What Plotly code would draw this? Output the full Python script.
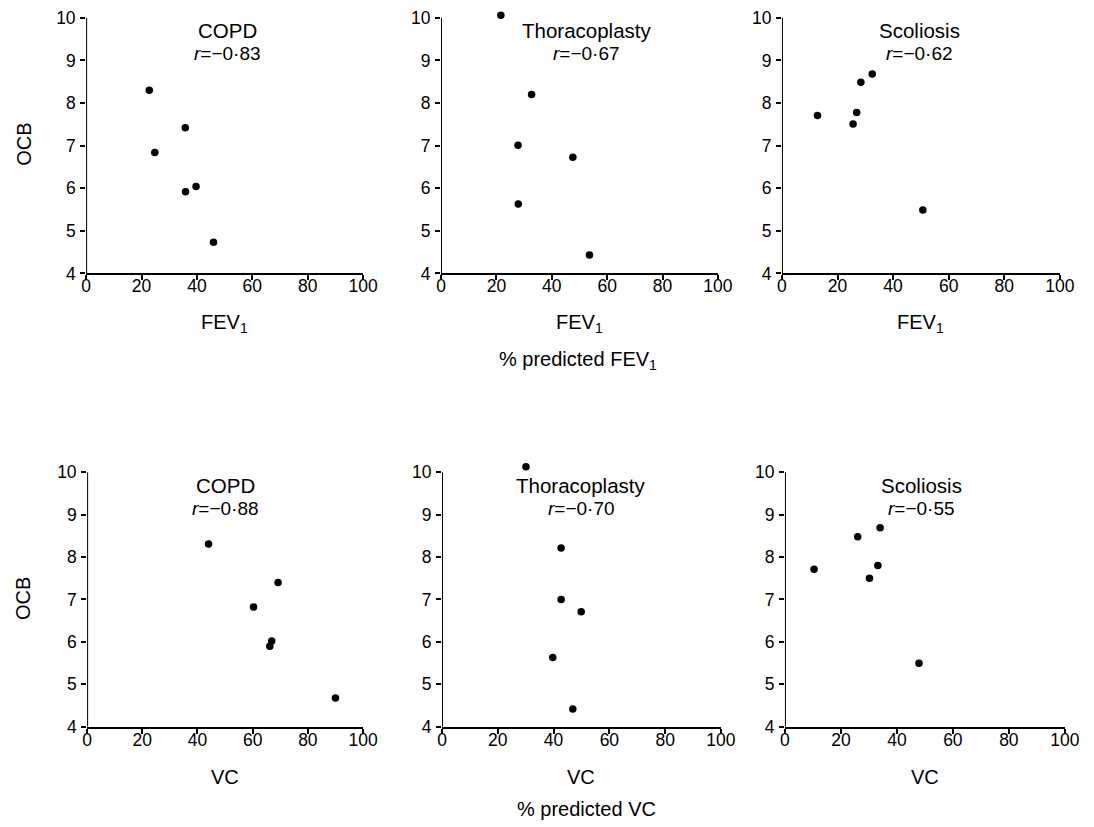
import plotly.graph_objects as go

W, H = 1094, 827
PAD = 8                       # body margin of the page
SX, BX = 0.982, 5.0           # observed screen mapping (calibration)
SY, BY = 0.9845, 2.3

# ---- data ----
copd_fev1_x = [22.8, 35.8, 24.8, 35.9, 39.7, 46.0]
copd_fev1_y = [8.30, 7.42, 6.84, 5.92, 6.04, 4.73]
thor_fev1_x = [21.6, 32.7, 27.8, 47.6, 27.9, 53.6]
thor_fev1_y = [10.06, 8.20, 7.01, 6.73, 5.63, 4.43]
scol_fev1_x = [12.8, 28.4, 32.5, 26.9, 25.6, 50.7]
scol_fev1_y = [7.71, 8.49, 8.68, 7.78, 7.51, 5.49]

copd_vc_x = [44.0, 69.2, 60.3, 66.9, 66.2, 90.0]
copd_vc_y = [8.31, 7.40, 6.82, 6.02, 5.90, 4.68]
thor_vc_x = [30.1, 42.7, 42.7, 49.9, 39.7, 46.9]
thor_vc_y = [10.13, 8.21, 7.00, 6.71, 5.63, 4.42]
scol_vc_x = [10.4, 26.0, 34.0, 33.2, 30.2, 47.9]
scol_vc_y = [7.71, 8.48, 8.69, 7.80, 7.50, 5.50]

panel_names = ["COPD", "Thoracoplasty", "Scoliosis", "COPD", "Thoracoplasty", "Scoliosis"]
r_values = ["−0·83", "−0·67", "−0·62", "−0·88", "−0·70", "−0·55"]
x_ticks = [0, 20, 40, 60, 80, 100]
y_ticks = [4, 5, 6, 7, 8, 9, 10]
Y_MIN, Y_MAX, Y_TOP = 4, 10, 10.135   # Y_TOP leaves room for points just above 10

series = [
    (copd_fev1_x, copd_fev1_y), (thor_fev1_x, thor_fev1_y), (scol_fev1_x, scol_fev1_y),
    (copd_vc_x, copd_vc_y), (thor_vc_x, thor_vc_y), (scol_vc_x, scol_vc_y),
]

# ---- layout geometry (target pixels in the screenshot) ----
x_px = [(86, 363), (441, 718), (782, 1060), (87, 363), (442, 721), (785, 1065)]
y_px = [(16, 272)] * 3 + [(471, 726)] * 3
title_pos = [0.51, 0.527, 0.496, 0.50, 0.50, 0.488]


def px_x(p):
    return min(1.0, max(0.0, ((p - BX) / SX - PAD) / W))


def px_y(p):
    return min(1.0, max(0.0, 1 - ((p - BY) / SY - PAD) / H))


FONT = "Liberation Sans, Arial, Helvetica, sans-serif"

fig = go.Figure()
layout = dict(
    width=W, height=H,
    margin=dict(l=0, r=0, t=0, b=0),
    paper_bgcolor="white", plot_bgcolor="white",
    showlegend=False,
    font=dict(family=FONT, color="black"),
)
annotations = []
shapes = []

for i, ((xs, ys), (x0, x1), (y0, y1)) in enumerate(zip(series, x_px, y_px)):
    n = i + 1
    xa = "x" if n == 1 else f"x{n}"
    ya = "y" if n == 1 else f"y{n}"
    fig.add_trace(go.Scatter(
        x=xs, y=ys, mode="markers", xaxis=xa, yaxis=ya,
        marker=dict(color="black", size=7.5), cliponaxis=False,
        hoverinfo="x+y",
    ))
    common = dict(
        showgrid=False, zeroline=False, linecolor="black",
        ticks="outside", tickcolor="black", tickwidth=2,
        ticklen=5, ticklabeloverflow="allow",
        tickfont=dict(size=17.5, family=FONT, color="black"),
    )
    top_px = y0 - (Y_TOP - Y_MAX) / (Y_MAX - Y_MIN) * (y1 - y0)
    layout["xaxis" if n == 1 else f"xaxis{n}"] = dict(
        domain=[px_x(x0), px_x(x1)], range=[0, 100], tickvals=x_ticks,
        anchor=ya, showline=True, linewidth=2, ticklabelstandoff=-9, **common,
    )
    layout["yaxis" if n == 1 else f"yaxis{n}"] = dict(
        domain=[px_y(y1), px_y(top_px)], range=[Y_MIN, Y_TOP], tickvals=y_ticks,
        anchor=xa, showline=False, ticklabelstandoff=1, **common,
    )
    # y axis line from 4 to 10 only
    shapes.append(dict(
        type="line", xref=xa, yref=ya, x0=0, x1=0, y0=Y_MIN, y1=Y_MAX,
        line=dict(color="black", width=2), layer="above",
    ))
    # panel title and r
    annotations.append(dict(
        xref=f"{xa} domain", yref="paper", x=title_pos[i], y=px_y(y0 + 13),
        text=panel_names[i], showarrow=False,
        font=dict(size=20.5, family=FONT, color="black"),
        xanchor="center", yanchor="middle",
    ))
    annotations.append(dict(
        xref=f"{xa} domain", yref="paper", x=title_pos[i], y=px_y(y0 + 36),
        text="<i>r</i>=" + r_values[i], showarrow=False,
        font=dict(size=19, family=FONT, color="black"),
        xanchor="center", yanchor="middle",
    ))
    # x-axis title
    annotations.append(dict(
        xref=f"{xa} domain", yref="paper", x=0.5, y=px_y(y1 + 50),
        text="FEV<sub>1</sub>" if i < 3 else "VC", showarrow=False,
        font=dict(size=20, family=FONT, color="black"),
        xanchor="center", yanchor="middle",
    ))

# OCB labels
for yc in (143, 598):
    annotations.append(dict(
        xref="paper", yref="paper", x=px_x(23), y=px_y(yc), text="OCB",
        textangle=-90, showarrow=False,
        font=dict(size=20, family=FONT, color="black"),
        xanchor="center", yanchor="middle",
    ))

annotations.append(dict(
    xref="paper", yref="paper", x=px_x(578), y=px_y(359),
    text="% predicted FEV<sub>1</sub>", showarrow=False,
    font=dict(size=20, family=FONT, color="black"),
    xanchor="center", yanchor="middle",
))
annotations.append(dict(
    xref="paper", yref="paper", x=px_x(587), y=px_y(808),
    text="% predicted VC", showarrow=False,
    font=dict(size=20, family=FONT, color="black"),
    xanchor="center", yanchor="middle",
))

layout["annotations"] = annotations
layout["shapes"] = shapes
fig.update_layout(**layout)
fig.write_html("out.html")
